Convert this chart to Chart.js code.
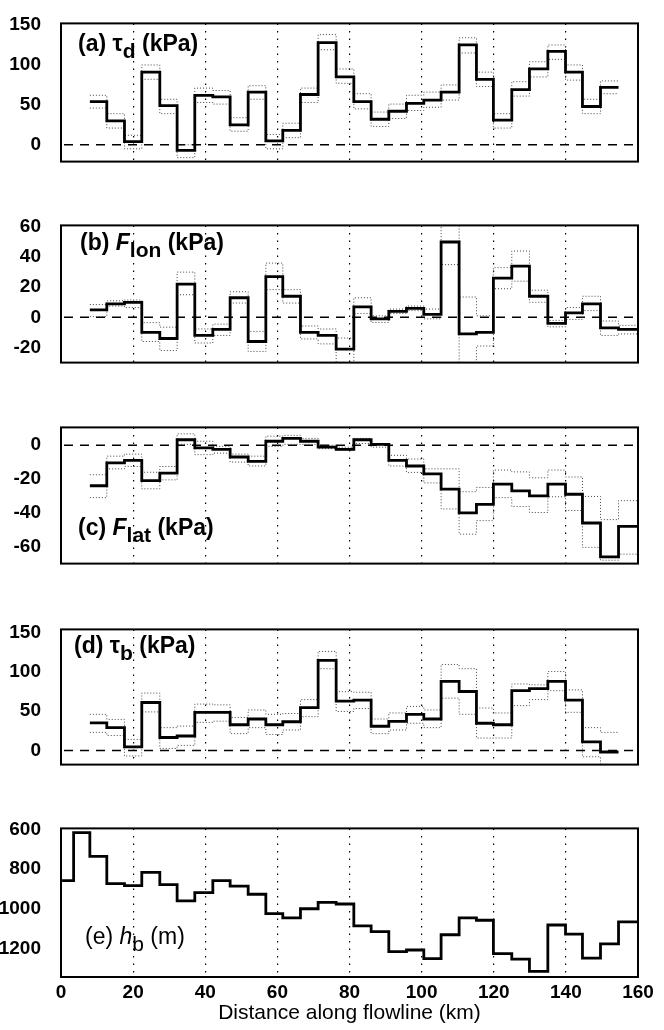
<!DOCTYPE html>
<html>
<head>
<meta charset="utf-8">
<script src="https://cdn.jsdelivr.net/npm/chart.js@4.4.0/dist/chart.umd.min.js"></script>
<style>
  html, body { margin: 0; padding: 0; background: #fff; }
  #fig { position: relative; width: 664px; height: 1030px; overflow: hidden; }
  #fig canvas { position: absolute; left: 0; }
</style>
</head>
<body>
<div id="fig"></div>
<script>
// bin edges along the flowline (km)
const edgesKm = [3.5, 8.0, 12.7, 17.6, 22.4, 27.4, 32.2, 37.1, 42.1, 46.9, 51.9, 56.8, 61.5, 66.4, 71.3,
  76.3, 81.2, 86.0, 90.9, 95.8, 100.6, 105.4, 110.4, 115.2, 119.9, 125.0, 129.9, 135.0, 139.9, 144.6,
  149.6, 154.6, 159.9];
const bedStartKm = 0.3;

// (a) driving stress, kPa
const tauD = [54, 30, 4, 91, 49, -7, 62, 60, 25, 66, 5, 18, 63, 128, 85, 54, 32, 42, 52, 56, 66, 125, 82, 31, 69, 95, 117, 91, 48, 72];
const tauDHi = [62, 39, 12, 100, 57, 0, 71, 68, 34, 74, 13, 27, 71, 138, 95, 64, 41, 51, 62, 66, 75, 134, 91, 39, 79, 104, 125, 100, 57, 80];
const tauDLo = [46, 21, -5, 82, 39, -16, 53, 51, 17, 57, -5, 9, 53, 119, 77, 45, 23, 33, 43, 47, 56, 115, 73, 21, 61, 85, 107, 81, 39, 64];

// (b) longitudinal stress gradient, kPa
const fLon = [5, 9, 10, -10, -14, 22, -12, -8, 13, -16, 27, 14, -10, -12, -21, 7, -1, 4, 6, 2, 50, -11, -10, 26, 34, 14, -4, 3, 9, -7, -8];
const fLonHi = [8.5, 11, 11.5, -3.5, -6.5, 30, -7.7, -4.5, 17, -9.3, 36, 18.4, -5.7, -7.7, -13.7, 13, 1, 5.5, 7.5, 5.5, 65, 13.5, 1, 33, 44, 18, -2, 6.5, 14, -2.4, -5.3];
const fLonLo = [0.5, 7.5, 6.5, -16, -22, 15, -17, -12, 9.5, -22.6, 18.4, 9.5, -14.3, -17.6, -32, 2.6, -3.4, 2.6, 4.5, -1, 35, -35, -19, 19, 24, 10, -6.3, -1.4, 4.5, -12, -11];

// (c) lateral drag, kPa
const fLat = [-24, -10.5, -9, -21, -16.5, 3.2, -1.6, -2.5, -7, -9.6, 2.3, 4, 2.3, -1.2, -2.5, 3.2, 0.5, -9, -12.3, -17, -26, -40, -35, -23, -27, -30, -23, -29, -46, -66, -48];
const fLatHi = [-17.5, -6.5, -5.3, -16, -12.6, 6.7, 2.3, -0.7, -5.3, -6.5, 5.3, 5.8, 4, 0, -1.2, 4, 1, -6, -8.2, -14, -14, -27.5, -25, -14.7, -15.8, -19.3, -14.7, -18.8, -30.3, -44, -32.8];
const fLatLo = [-31, -14, -12.6, -25.8, -20.5, 0.5, -5.6, -4.7, -10, -12.3, -0.7, 0.5, 0.5, -2.1, -3, 1, -1.2, -12.3, -16.1, -22.3, -37.7, -52.6, -44.6, -31, -36.3, -39.8, -30.5, -38.6, -60.4, -68, -64.4];

// (d) basal drag, kPa
const tauB = [35, 29, 4.5, 61, 16.5, 18.4, 48.5, 48.5, 32.7, 40, 32.7, 36.5, 54.5, 114.7, 62.8, 64, 30.8, 37, 46, 40, 88, 75, 34.6, 32.7, 76, 78.6, 88, 64, 11, -2];
const tauBHi = [46, 39.5, 14, 73, 29, 31, 59, 58, 42, 51.5, 46, 47, 64.7, 126, 74.8, 74, 40, 47.7, 56, 51.5, 109.4, 104, 54, 47.7, 84.6, 83.5, 100.4, 77, 29, 23];
const tauBLo = [23, 19, -7, 49, 2.6, 6.4, 35.7, 37.2, 21.4, 29, 20.3, 26, 43, 104, 49.6, 53.4, 21.4, 26, 34.6, 29, 66.5, 46, 15.8, 15.8, 57, 64.7, 76, 48.5, -8, -25];

// (e) bed depth, m
const bedDepth = [858, 616, 736, 873, 883, 817, 878, 960, 919, 858, 886, 927, 1025, 1046, 1000, 968, 976, 1086, 1115, 1216, 1208, 1251, 1131, 1046, 1058, 1226, 1254, 1316, 1082, 1128, 1249, 1177, 1066];

// tick labels
const distTicks = [0, 20, 40, 60, 80, 100, 120, 140, 160];
const tauTicks = [0, 50, 100, 150];
const fLonTicks = [-20, 0, 20, 40, 60];
const fLatTicks = [-60, -40, -20, 0];
const bedTicks = [600, 800, 1000, 1200];

const FONT = '"Liberation Sans", Arial, Helvetica, sans-serif';

// horizontal step from each edge to the next, holding the bin's value
const stepPoints = (edges, vals) => {
  const pts = vals.map((v, i) => ({ x: edges[i], y: v }));
  pts.push({ x: edges[vals.length], y: vals[vals.length - 1] });
  return pts;
};

const mainLine = (edges, vals) => ({
  data: stepPoints(edges, vals), stepped: true, borderColor: '#000', borderWidth: 2.8,
  pointRadius: 0, fill: false, clip: 0
});
const bandLine = (edges, vals) => ({
  data: stepPoints(edges, vals), stepped: true, borderColor: '#444', borderWidth: 1,
  borderDash: [1, 2], pointRadius: 0, fill: false, clip: 0
});

const framePlugin = {
  id: 'frame',
  beforeDatasetsDraw(chart, args, opts) {
    if (!opts.zero) return;
    const { ctx, chartArea } = chart;
    const y = chart.scales.y.getPixelForValue(0);
    ctx.save();
    ctx.strokeStyle = '#000';
    ctx.lineWidth = 1.5;
    ctx.setLineDash([9, 7]);
    ctx.beginPath();
    ctx.moveTo(chartArea.left + 3, y);
    ctx.lineTo(chartArea.right, y);
    ctx.stroke();
    ctx.restore();
  },
  afterDraw(chart, args, opts) {
    const { ctx, chartArea } = chart;
    ctx.save();
    ctx.strokeStyle = '#000';
    ctx.lineWidth = 2;
    ctx.strokeRect(chartArea.left, chartArea.top, chartArea.right - chartArea.left, chartArea.bottom - chartArea.top);

    // panel label, subscripts dropped below the baseline
    let x = chartArea.left + opts.dx;
    const y = opts.fromBottom ? chartArea.bottom - opts.dy : chartArea.top + opts.dy;
    ctx.fillStyle = '#000';
    ctx.textBaseline = 'alphabetic';
    opts.parts.forEach(p => {
      ctx.font = (p.italic ? 'italic ' : '') + opts.weight + ' ' + (p.sub ? 21 : 23) + 'px ' + FONT;
      ctx.fillText(p.t, x, y + (p.sub ? 7 : 0));
      x += ctx.measureText(p.t).width;
    });
    ctx.restore();
  }
};

const fig = document.getElementById('fig');

function makePanel(cfg) {
  const canvas = document.createElement('canvas');
  const top = cfg.plotTop - 17;
  const height = cfg.plotBottom - top + cfg.below;
  canvas.width = 664;
  canvas.height = height;
  canvas.style.top = top + 'px';
  canvas.style.width = '664px';
  canvas.style.height = height + 'px';
  fig.appendChild(canvas);

  new Chart(canvas, {
    type: 'line',
    data: { datasets: cfg.datasets },
    options: {
      responsive: false,
      animation: false,
      layout: { padding: { top: 17, right: 26, bottom: cfg.showX ? 0 : cfg.below, left: 0 } },
      plugins: {
        legend: { display: false },
        tooltip: { enabled: false },
        frame: { zero: cfg.zero, parts: cfg.label, dx: cfg.dx, dy: cfg.dy, fromBottom: cfg.fromBottom, weight: cfg.weight || 'bold' }
      },
      scales: {
        x: {
          type: 'linear', min: 0, max: 160,
          afterBuildTicks: s => { s.ticks = distTicks.map(v => ({ value: v })); },
          afterFit: s => { s.height = cfg.showX ? cfg.below : 0; },
          grid: { color: '#000', lineWidth: 1.2, drawTicks: false },
          border: { display: false, dash: [1.5, 6] },
          ticks: {
            display: !!cfg.showX, padding: 4, maxRotation: 0, color: '#000',
            font: { family: FONT, size: 19, weight: 'bold' },
            callback: v => String(v)
          },
          title: {
            display: !!cfg.showX, text: 'Distance along flowline (km)', color: '#000',
            font: { family: FONT, size: 21 }, padding: { top: 0, bottom: 4 }
          }
        },
        y: {
          min: cfg.yMin, max: cfg.yMax, reverse: !!cfg.reverse,
          afterBuildTicks: s => { s.ticks = cfg.yTicks.map(v => ({ value: v })); },
          afterFit: s => { s.width = 61; },
          grid: { display: false },
          border: { display: false },
          ticks: {
            padding: 12, color: '#000',
            font: { family: FONT, size: 19, weight: 'bold' },
            callback: v => String(v)
          }
        }
      }
    },
    plugins: [framePlugin]
  });
}

const binEdges = edgesKm.slice(1);
const bedEdges = [bedStartKm].concat(edgesKm);

// (a)
makePanel({
  plotTop: 17, plotBottom: 171, below: 14, yMin: -21, yMax: 152, yTicks: tauTicks, zero: true,
  datasets: [mainLine(binEdges, tauD), bandLine(binEdges, tauDHi), bandLine(binEdges, tauDLo)],
  label: [{ t: '(a) τ' }, { t: 'd', sub: true }, { t: ' (kPa)' }], dx: 17, dy: 28
});

// (b)
makePanel({
  plotTop: 219, plotBottom: 372, below: 14, yMin: -30, yMax: 61, yTicks: fLonTicks, zero: true,
  datasets: [mainLine(binEdges, fLon), bandLine(binEdges, fLonHi), bandLine(binEdges, fLonLo)],
  label: [{ t: '(b) ' }, { t: 'F', italic: true }, { t: 'lon', sub: true }, { t: ' (kPa)' }], dx: 19, dy: 25
});

// (c)
makePanel({
  plotTop: 421, plotBottom: 573, below: 14, yMin: -70, yMax: 10.5, yTicks: fLatTicks, zero: true,
  datasets: [mainLine(binEdges, fLat), bandLine(binEdges, fLatHi), bandLine(binEdges, fLatLo)],
  label: [{ t: '(c) ' }, { t: 'F', italic: true }, { t: 'lat', sub: true }, { t: ' (kPa)' }], dx: 17, dy: 29, fromBottom: true
});

// (d)
makePanel({
  plotTop: 623, plotBottom: 774, below: 14, yMin: -18, yMax: 154, yTicks: tauTicks, zero: true,
  datasets: [mainLine(binEdges, tauB), bandLine(binEdges, tauBHi), bandLine(binEdges, tauBLo)],
  label: [{ t: '(d) τ' }, { t: 'b', sub: true }, { t: ' (kPa)' }], dx: 13, dy: 24
});

// (e)
makePanel({
  plotTop: 822, plotBottom: 977, below: 53, yMin: 595, yMax: 1344, reverse: true, yTicks: bedTicks,
  showX: true, zero: false,
  datasets: [mainLine(bedEdges, bedDepth)],
  label: [{ t: '(e) ' }, { t: 'h', italic: true }, { t: 'b', sub: true }, { t: ' (m)' }], dx: 24, dy: 33, fromBottom: true,
  weight: 'normal'
});
</script>
</body>
</html>
